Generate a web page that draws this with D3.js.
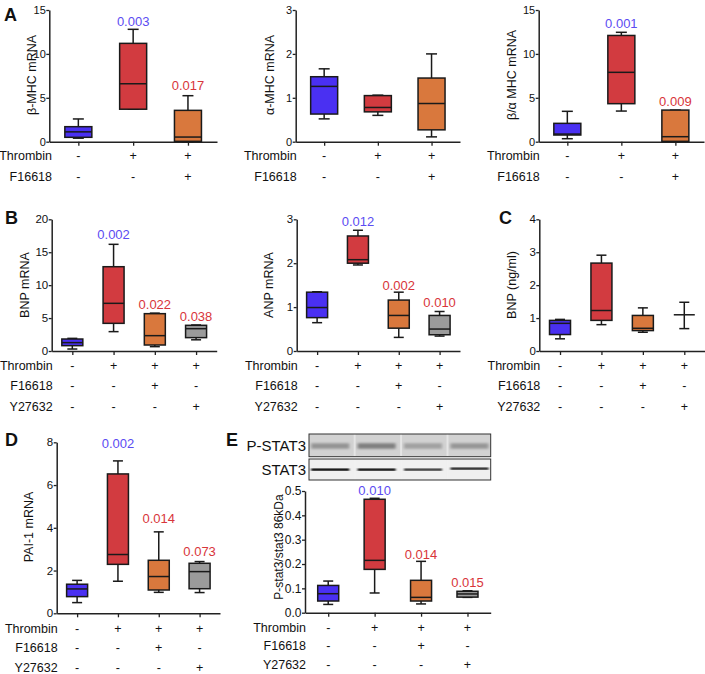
<!DOCTYPE html>
<html><head><meta charset="utf-8">
<script src="https://cdn.jsdelivr.net/npm/d3@7"></script>
<style>
body{margin:0;background:#fff}
svg{display:block}
text{font-family:"Liberation Sans",Arial,Helvetica,sans-serif;fill:#111}
</style>
</head><body>
<svg id="c" width="705" height="674"></svg>
<script>
// ---------- DATA ----------
const groups = ["Control", "Thrombin", "Thrombin+F16618", "Thrombin+Y27632"];
const rowNames = ["Thrombin", "F16618", "Y27632"];
const thrombinRow = ["-", "+", "+", "+"];
const f16618Row  = ["-", "-", "+", "-"];
const y27632Row  = ["-", "-", "-", "+"];

// box stats: [min, q1, median, q3, max]
const betaMHC   = [[0.4, 0.5, 1.12, 1.71, 2.59], [3.7, 3.7, 6.6, 11.2, 12.8], [0, 0.04, 0.53, 3.57, 5.24]];
const alphaMHC  = [[0.52, 0.63, 1.26, 1.48, 1.66], [0.6, 0.68, 0.78, 1.05, 1.06], [0.11, 0.27, 0.87, 1.45, 2.0]];
const ratioMHC  = [[0.34, 0.76, 0.87, 2.09, 3.46], [3.49, 4.33, 7.9, 12.1, 12.46], [0.04, 0.04, 0.57, 3.6, 3.6]];
const bnpMRNA   = [[0.3, 0.81, 1.27, 1.82, 1.92], [2.94, 4.2, 7.24, 12.8, 16.2], [0.66, 0.91, 2.33, 5.67, 5.75], [1.7, 2.03, 3.39, 3.9, 3.95]];
const anpMRNA   = [[0.645, 0.76, 0.99, 1.34, 1.35], [1.96, 2.0, 2.08, 2.62, 2.75], [0.31, 0.52, 0.81, 1.16, 1.34], [0.34, 0.37, 0.5, 0.81, 0.9]];
const bnpPlasma = [[0.37, 0.5, 0.84, 0.93, 0.96], [0.8, 0.93, 1.23, 2.67, 2.91], [0.57, 0.62, 0.69, 1.08, 1.31], [0.68, 1.1, 1.1, 1.1, 1.48]];
const pai1MRNA  = [[0.5, 0.78, 1.14, 1.36, 1.54], [1.5, 2.29, 2.75, 6.52, 7.13], [0.98, 1.09, 1.72, 2.48, 3.81], [0.97, 1.15, 1.95, 2.34, 2.42]];
const pstat3    = [[0.034, 0.048, 0.078, 0.112, 0.130], [0.081, 0.178, 0.215, 0.466, 0.47], [0.036, 0.048, 0.063, 0.133, 0.211], [0.063, 0.064, 0.077, 0.088, 0.09]];

const pA1 = [null, "0.003", "0.017"];
const pA3 = [null, "0.001", "0.009"];
const pB1 = [null, "0.002", "0.022", "0.038"];
const pB2 = [null, "0.012", "0.002", "0.010"];
const pD  = [null, "0.002", "0.014", "0.073"];
const pE  = [null, "0.010", "0.014", "0.015"];

const ticksA1 = [0, 5, 10, 15];
const ticksA2 = [0, 1, 2, 3];
const ticksB1 = [0, 5, 10, 15, 20];
const ticksC  = [0, 1, 2, 3, 4];
const ticksD  = [0, 2, 4, 6, 8];
const ticksE  = [0, 0.1, 0.2, 0.3, 0.4, 0.5];

// western blot band intensities (0..1 darkness) per lane
const blotPSTAT3 = [0.5, 0.65, 0.4, 0.48];
const blotSTAT3  = [0.95, 0.92, 0.72, 0.8];

// ---------- STYLE ----------
const fills = ["#4a30f2", "#d23b40", "#d9783d", "#9b9b9b"];
const pColorBlue = "#5b4cf2", pColorRed = "#d8353a";

const svg = d3.select("#c");

const panels = [
  {data: betaMHC, x0: 49.3, x1: 217, y0: 141.7, y1: 10, max: 15, ticks: ticksA1, label: "β-MHC mRNA", lx: 31.5, ly: 75, lfs: 12.5, tfs: 11, bw: 27, cap: 11, p: pA1, pOff: [0, 7.6, 10.7], rowY: [156, 177], pad: 0.53},
  {data: alphaMHC, x0: 295.7, x1: 460, y0: 141.7, y1: 10, max: 3, ticks: ticksA2, label: "α-MHC mRNA", lx: 270, ly: 75, lfs: 12.5, tfs: 11, bw: 27, cap: 11, p: null, rowY: [156, 177], pad: 0.53},
  {data: ratioMHC, x0: 538.7, x1: 704, y0: 141.7, y1: 10, max: 15, ticks: ticksA1, label: "β/α MHC mRNA", lx: 512, ly: 75, lfs: 12.5, tfs: 11, bw: 27, cap: 11, p: pA3, pOff: [0, 9.3, 9], rowY: [156, 177], pad: 0.53},
  {data: bnpMRNA, x0: 51.7, x1: 216.7, y0: 351, y1: 219.3, max: 20, ticks: ticksB1, label: "BNP mRNA", lx: 25, ly: 285, lfs: 12.5, tfs: 11.5, bw: 21, cap: 10, p: pB1, pOff: [0, 10, 9, 9], rowY: [365.7, 385.5, 406.5], pad: 0.5},
  {data: anpMRNA, x0: 296.7, x1: 460, y0: 351, y1: 219.3, max: 3, ticks: ticksA2, label: "ANP mRNA", lx: 269, ly: 285, lfs: 12.5, tfs: 11.5, bw: 21, cap: 10, p: pB2, pOff: [0, 9.3, 7, 9.2], rowY: [365.7, 385.5, 406.5], pad: 0.5},
  {data: bnpPlasma, x0: 539.3, x1: 705, y0: 351, y1: 219.3, max: 4, ticks: ticksC, label: "BNP (ng/ml)", lx: 512, ly: 285, lfs: 12.5, tfs: 11.5, bw: 21, cap: 10, p: null, rowY: [365.7, 385.5, 406.5], pad: 0.5},
  {data: pai1MRNA, x0: 56.7, x1: 220, y0: 613.3, y1: 442.3, max: 8, ticks: ticksD, label: "PAI-1 mRNA", lx: 29, ly: 527, lfs: 12.5, tfs: 11.5, bw: 21, cap: 10, p: pD, pOff: [0, 17.6, 13, 10.6], rowY: [628.3, 647.7, 667.7], pad: 0.5},
  {data: pstat3, x0: 305, x1: 490.7, y0: 612.7, y1: 491, max: 0.5, ticks: ticksE, fmt: d3.format(".1f"), label: "P-stat3/stat3 86kDa", lx: 279, ly: 547, lfs: 12, tfs: 12, bw: 21, cap: 10, p: pE, pOff: [0, 7.6, 6.6, 8], rowY: [627.3, 646, 665], pad: 0.5}
];

const rowsAll = [thrombinRow, f16618Row, y27632Row];
let eScale = null;

panels.forEach((P, pi) => {
  const n = P.data.length;
  const cats = groups.slice(0, n);
  const x = d3.scalePoint().domain(cats).range([P.x0, P.x1]).padding(P.pad);
  const y = d3.scaleLinear().domain([0, P.max]).range([P.y0, P.y1]);
  if (pi === 7) eScale = x;
  const g = svg.append("g");

  // y axis
  const ya = g.append("g").attr("transform", `translate(${P.x0},0)`)
    .call(d3.axisLeft(y).tickValues(P.ticks).tickSize(3).tickSizeOuter(0).tickPadding(0.5)
      .tickFormat(P.fmt || d3.format("d")));
  ya.select(".domain").attr("stroke", "#222").attr("stroke-width", 1.5);
  ya.selectAll(".tick line").attr("stroke", "#222").attr("stroke-width", 1.3);
  ya.selectAll(".tick text").attr("font-size", P.tfs).attr("font-family", "Liberation Sans, Arial, sans-serif").attr("fill", "#111");

  // x axis
  const xa = g.append("g").attr("transform", `translate(0,${P.y0})`)
    .call(d3.axisBottom(x).tickSize(4).tickSizeOuter(0).tickFormat(""));
  xa.select(".domain").attr("stroke", "#222").attr("stroke-width", 1.5);
  xa.selectAll(".tick line").attr("stroke", "#222").attr("stroke-width", 1.3);

  // y label
  g.append("text").attr("transform", `translate(${P.lx},${P.ly}) rotate(-90)`)
    .attr("text-anchor", "middle").attr("dy", "0.35em").attr("font-size", P.lfs).text(P.label);

  // boxes
  P.data.forEach((d, i) => {
    const cx = x(cats[i]);
    const [mn, q1, md, q3, mx] = d;
    const bg = g.append("g").attr("stroke", "#1a1a1a").attr("stroke-width", 1.5);
    bg.append("line").attr("x1", cx).attr("x2", cx).attr("y1", y(q3)).attr("y2", y(mx));
    bg.append("line").attr("x1", cx).attr("x2", cx).attr("y1", y(q1)).attr("y2", y(mn));
    bg.append("line").attr("x1", cx - P.cap / 2).attr("x2", cx + P.cap / 2).attr("y1", y(mx)).attr("y2", y(mx));
    bg.append("line").attr("x1", cx - P.cap / 2).attr("x2", cx + P.cap / 2).attr("y1", y(mn)).attr("y2", y(mn));
    bg.append("rect").attr("x", cx - P.bw / 2).attr("width", P.bw)
      .attr("y", y(q3)).attr("height", Math.max(0, y(q1) - y(q3))).attr("fill", fills[i]);
    bg.append("line").attr("x1", cx - P.bw / 2).attr("x2", cx + P.bw / 2).attr("y1", y(md)).attr("y2", y(md));

    if (P.p && P.p[i]) {
      g.append("text").attr("x", cx).attr("y", y(mx) - P.pOff[i]).attr("dy", "0.35em")
        .attr("text-anchor", "middle").attr("font-size", 13)
        .style("fill", i === 1 ? pColorBlue : pColorRed).text(P.p[i]);
    }
  });

  // treatment rows
  P.rowY.forEach((ry, r) => {
    g.append("text").attr("x", Math.max(P.x0 + 1, 52)).attr("y", ry).attr("dy", "0.35em")
      .attr("text-anchor", "end").attr("font-size", 12.5).text(rowNames[r]);
    cats.forEach((c, i) => {
      g.append("text").attr("x", x(c)).attr("y", ry).attr("dy", "0.35em")
        .attr("text-anchor", "middle").attr("font-size", 12.5).text(rowsAll[r][i]);
    });
  });
});

// panel letters
const letters = [["A", 4, 20.5], ["B", 5, 223.5], ["C", 499, 223.5], ["D", 5, 445.5], ["E", 226, 445.5]];
letters.forEach(([t, lx, ly]) => {
  svg.append("text").attr("x", lx).attr("y", ly).attr("font-size", 18).attr("font-weight", "bold").text(t);
});

// ---------- western blot ----------
const defs = svg.append("defs");
defs.append("filter").attr("id", "blur1").attr("x", "-20%").attr("y", "-100%").attr("width", "140%").attr("height", "300%")
  .append("feGaussianBlur").attr("stdDeviation", "1.6 1.2");
defs.append("filter").attr("id", "blur2").attr("x", "-20%").attr("y", "-100%").attr("width", "140%").attr("height", "300%")
  .append("feGaussianBlur").attr("stdDeviation", "1.2 0.6");

const blotX0 = 309, blotX1 = 490.7;
const laneW = 42;
const blots = [
  {name: "P-STAT3", y0: 434, y1: 456.7, bg: "#d2d2d2", vals: blotPSTAT3, bandY: 446, bandH: 5.5, filt: "blur1", base: 80},
  {name: "STAT3", y0: 459, y1: 480, bg: "#f0f0f0", vals: blotSTAT3, bandY: 469.6, bandH: 2.4, filt: "blur2", base: 20}
];
blots.forEach(B => {
  const bgG = svg.append("g");
  bgG.append("rect").attr("x", blotX0).attr("y", B.y0).attr("width", blotX1 - blotX0).attr("height", B.y1 - B.y0)
    .attr("fill", B.bg);
  const clipId = "clip" + B.name.replace("-", "");
  defs.append("clipPath").attr("id", clipId).append("rect").attr("x", blotX0).attr("y", B.y0)
    .attr("width", blotX1 - blotX0).attr("height", B.y1 - B.y0);
  const cg = bgG.append("g").attr("clip-path", `url(#${clipId})`);
  groups.forEach((c, i) => {
    const cx = eScale(c) + 2;
    const v = B.vals[i];
    const shade = Math.round(215 - v * (215 - B.base));
    cg.append("rect").attr("x", cx - laneW / 2 + 2).attr("width", laneW - 4)
      .attr("y", B.bandY - B.bandH / 2 - (i === 3 && B.name === "STAT3" ? 1 : 0)).attr("height", B.bandH)
      .attr("fill", d3.rgb(shade, shade, shade)).attr("filter", `url(#${B.filt})`);
    if (i > 0) {
      cg.append("line").attr("x1", cx - laneW / 2 - 1).attr("x2", cx - laneW / 2 - 1)
        .attr("y1", B.y0).attr("y2", B.y1).attr("stroke", "#f2f2f2").attr("stroke-width", 2).attr("opacity", 0.6);
    }
  });
  bgG.append("rect").attr("x", blotX0).attr("y", B.y0).attr("width", blotX1 - blotX0).attr("height", B.y1 - B.y0)
    .attr("fill", "none").attr("stroke", "#333").attr("stroke-width", 1);
  svg.append("text").attr("x", blotX0 - 3).attr("y", (B.y0 + B.y1) / 2).attr("dy", "0.36em")
    .attr("text-anchor", "end").attr("font-size", 15).text(B.name);
});
</script>
</body></html>
